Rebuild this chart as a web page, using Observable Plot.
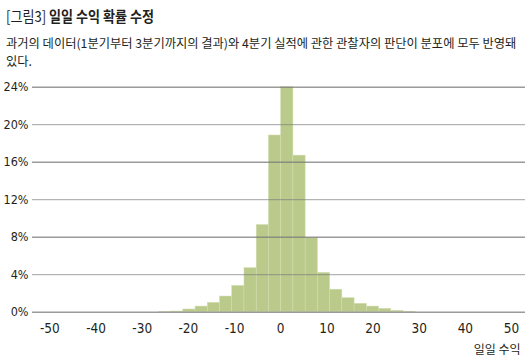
<!DOCTYPE html>
<html><head><meta charset="utf-8">
<script src="https://cdn.jsdelivr.net/npm/d3@7"></script>
<script src="https://cdn.jsdelivr.net/npm/@observablehq/plot@0.6"></script>
<style>
html,body{margin:0;padding:0;background:#fff;overflow:hidden;}
#wrap{position:relative;width:525px;height:364px;}
.title{position:absolute;left:6px;top:6px;font-family:"Noto Sans CJK KR",sans-serif;font-size:15px;line-height:20px;white-space:nowrap;transform:scaleX(0.87);transform-origin:0 0;color:#231f20;}
.title b{font-weight:700}
.sub{position:absolute;left:6px;font-family:"Noto Sans CJK KR",sans-serif;font-size:12.4px;line-height:18px;white-space:nowrap;transform:scaleX(0.99);transform-origin:0 0;color:#231f20;}
#chart{position:absolute;left:0;top:72px;}
</style></head>
<body>
<div id="wrap">
  <div class="title">[그림3] <b>일일 수익 확률 수정</b></div>
  <div class="sub" style="top:33.5px">과거의 데이터(1분기부터 3분기까지의 결과)와 4분기 실적에 관한 관찰자의 판단이 분포에 모두 반영돼</div>
  <div class="sub" style="top:51.5px">있다.</div>
  <div id="chart"></div>
</div>
<script>
// Bin edges (daily return) and probability (%) per bin
const binEdges = [-26.4, -23.75, -21.1, -18.45, -15.8, -13.15, -10.5, -7.85, -5.2, -2.55, 0.1, 2.75, 5.4, 8.05, 10.7, 13.35, 16.0, 18.65, 21.3, 23.95, 26.6, 29.25];
const probability = [0.03, 0.07, 0.29, 0.6, 1.0, 1.67, 2.8, 4.7, 9.3, 18.85, 24, 16.7, 7.9, 4.2, 2.4, 1.5, 0.9, 0.6, 0.36, 0.15, 0.05];
const xTicks = [-50, -40, -30, -20, -10, 0, 10, 20, 30, 40, 50];
const yTicks = [0, 4, 8, 12, 16, 20, 24];
const yTicksMajor = [0, 8, 16, 24];
const yTicksMinor = [4, 12, 20];
const xLabel = "일일 수익";

const bins = probability.map((p, i) => ({x1: binEdges[i], x2: binEdges[i + 1], p}));
const numFont = '"Liberation Sans Narrow","Arial Narrow","DejaVu Sans Condensed","Liberation Sans",sans-serif';

const chart = Plot.plot({
  width: 525,
  height: 292,
  marginTop: 14.7,
  marginBottom: 52.3,
  marginLeft: 32,
  marginRight: 0,
  style: {fontFamily: numFont, fontSize: "13px", color: "#231f20", background: "#fff"},
  x: {domain: [-53.77, 53.03]},
  y: {domain: [0, 24]},
  marks: [
    Plot.rectY(bins, {x1: "x1", x2: "x2", y: "p", fill: "#baca8b", stroke: "#d3deb0", strokeWidth: 0.5}),
    Plot.ruleY(yTicksMinor, {stroke: "#7a7a7a", strokeOpacity: 0.7, strokeWidth: 1}),
    Plot.ruleY(yTicksMajor, {stroke: "#7a7a7a", strokeOpacity: 0.75, strokeWidth: 1.6}),
    Plot.axisY({ticks: yTicks, tickSize: 0, tickPadding: 4, tickFormat: d => d + "%", label: null, fontSize: 12.5}),
    Plot.axisX({ticks: xTicks, tickSize: 0, tickPadding: 11, tickFormat: d => String(d), label: null, fontSize: 13.5}),
    Plot.text([xLabel], {frameAnchor: "bottom-right", dy: 42, dx: -5, textAnchor: "end", fontSize: 12, fontFamily: '"Noto Sans CJK KR",sans-serif', fill: "#231f20"})
  ]
});
document.getElementById("chart").appendChild(chart);
</script>
</body></html>
